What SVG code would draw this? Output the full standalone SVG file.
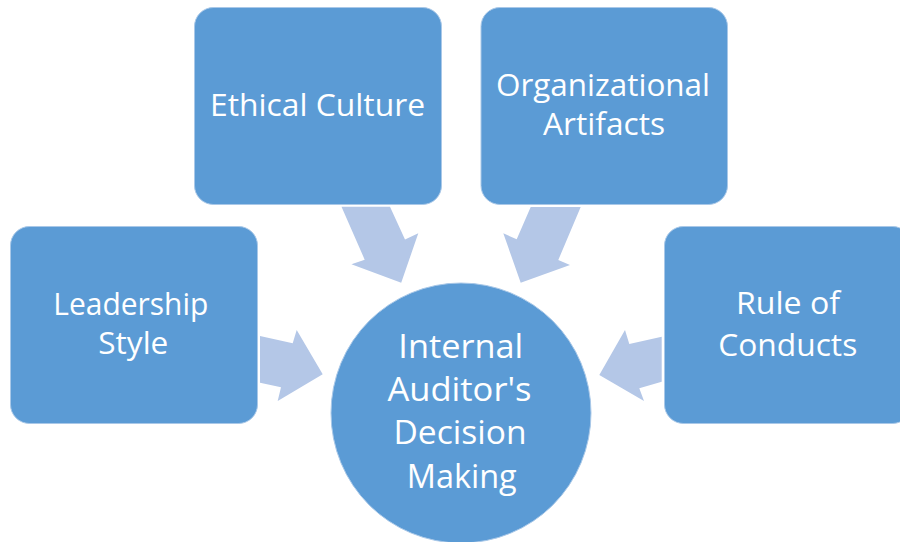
<svg xmlns="http://www.w3.org/2000/svg" width="900" height="542" viewBox="0 0 900 542">
<style>
.box{fill:#5B9BD5;stroke:#A9C8E8;stroke-width:1}
.arr{fill:#B4C7E7}
.t{font-family:"Open Sans","Liberation Sans",sans-serif;fill:#FFFFFF;text-anchor:middle;font-size:31.5px}
.c{font-size:33.5px}
</style>
<rect width="900" height="542" fill="#FFFFFF"/>
<g id="connectors">
<polygon class="arr" points="260,336 292.7,343.3 296.7,330 322.7,374.3 277.7,401 281,387.3 260,382.7"/>
<polygon class="arr" points="341.5,206.7 390,206.7 405,239.5 418.3,233.3 401.2,282.7 351.4,264.2 364.7,259.7"/>
<polygon class="arr" points="530.7,207 580.7,207 558.3,260 570,265 520.7,282.7 503.3,233.3 516.7,239.3"/>
<polygon class="arr" points="661.7,336.7 629.3,344 625,330 599.3,375 644,401 639.3,388.3 661.7,381.7"/>
</g>
<g id="ethical-culture">
<rect class="box" x="194.5" y="7.5" width="247" height="197" rx="19"/>
<text class="t" x="317.5" y="115.7" textLength="215" lengthAdjust="spacingAndGlyphs">Ethical Culture</text>
</g>
<g id="organizational-artifacts">
<rect class="box" x="481" y="7.5" width="246.5" height="197" rx="19"/>
<text class="t" x="603" y="96" textLength="214" lengthAdjust="spacingAndGlyphs">Organizational</text>
<text class="t" x="604" y="135" textLength="122" lengthAdjust="spacingAndGlyphs">Artifacts</text>
</g>
<g id="leadership-style">
<rect class="box" x="10.5" y="226.5" width="247" height="197" rx="19"/>
<text class="t" x="130.8" y="314.5" textLength="155" lengthAdjust="spacingAndGlyphs">Leadership</text>
<text class="t" x="133.3" y="354" textLength="70" lengthAdjust="spacingAndGlyphs">Style</text>
</g>
<g id="rule-of-conducts">
<rect class="box" x="664.5" y="226.5" width="247" height="197" rx="19"/>
<text class="t" x="788" y="314.3" textLength="104" lengthAdjust="spacingAndGlyphs">Rule of</text>
<text class="t" x="787.8" y="355.7" textLength="139" lengthAdjust="spacingAndGlyphs">Conducts</text>
</g>
<g id="internal-auditors-decision-making">
<circle cx="461" cy="413" r="130" fill="#5B9BD5" stroke="#A9C8E8" stroke-width="1"/>
<text class="t c" x="460.8" y="358.3" textLength="125" lengthAdjust="spacingAndGlyphs">Internal</text>
<text class="t c" x="459.5" y="401" textLength="144" lengthAdjust="spacingAndGlyphs">Auditor's</text>
<text class="t c" x="460" y="444.3" textLength="133" lengthAdjust="spacingAndGlyphs">Decision</text>
<text class="t c" x="461.7" y="487.7" textLength="110" lengthAdjust="spacingAndGlyphs">Making</text>
</g>
</svg>
